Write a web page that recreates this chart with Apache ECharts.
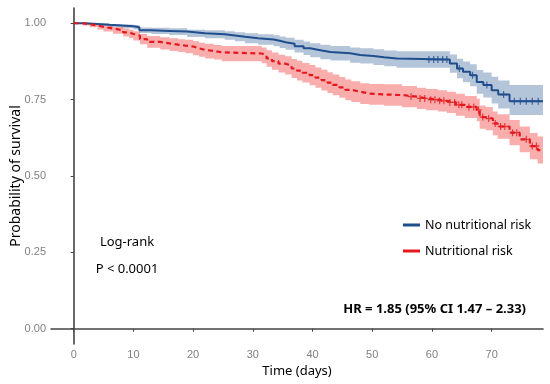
<!DOCTYPE html>
<html>
<head>
<meta charset="utf-8">
<script src="https://cdn.jsdelivr.net/npm/echarts@6/dist/echarts.min.js"></script>
<style>html,body{margin:0;padding:0;background:#fff;}#c{width:550px;height:384px;}</style>
</head>
<body>
<div id="c"></div>
<script>
// ---- data ----
const seriesNames = ['No nutritional risk', 'Nutritional risk'];

const timesBlue = [0, 2, 4, 6, 8, 10, 11, 13, 16, 19, 22, 25.3, 27, 28.7, 30.9, 33.5, 34.5, 35.5, 37, 38.5, 39.6, 41.3, 43, 46.3, 48, 50.2, 52, 54.1, 63, 64.2, 65.2, 66.4, 67.5, 68.6, 70, 71.1, 73, 78.6];
const survBlue  = [1.000, 0.998, 0.995, 0.993, 0.990, 0.987, 0.977, 0.975, 0.973, 0.967, 0.964, 0.960, 0.956, 0.951, 0.947, 0.943, 0.938, 0.933, 0.925, 0.918, 0.912, 0.906, 0.902, 0.896, 0.893, 0.889, 0.885, 0.881, 0.868, 0.852, 0.841, 0.830, 0.808, 0.798, 0.781, 0.767, 0.745, 0.745];
const loBlue    = [1.000, 0.995, 0.991, 0.988, 0.984, 0.980, 0.968, 0.965, 0.962, 0.955, 0.951, 0.946, 0.941, 0.935, 0.930, 0.925, 0.919, 0.913, 0.904, 0.896, 0.889, 0.882, 0.878, 0.871, 0.868, 0.863, 0.859, 0.854, 0.838, 0.820, 0.807, 0.794, 0.769, 0.757, 0.737, 0.721, 0.700, 0.700];
const hiBlue    = [1.000, 1.000, 0.999, 0.998, 0.996, 0.994, 0.986, 0.985, 0.984, 0.979, 0.977, 0.974, 0.971, 0.967, 0.964, 0.961, 0.957, 0.953, 0.946, 0.940, 0.935, 0.930, 0.926, 0.921, 0.918, 0.915, 0.911, 0.908, 0.898, 0.884, 0.875, 0.866, 0.847, 0.839, 0.825, 0.813, 0.798, 0.798];

const timesRed = [0, 1.5, 2.7, 4, 5, 6.6, 8.3, 9.3, 10, 11.1, 12.3, 14.5, 16.1, 17.5, 18.7, 20, 21, 22, 23.5, 24.8, 31.5, 32.3, 33.2, 34.3, 35.4, 36.5, 37.4, 38.3, 39.5, 40.5, 41.5, 42.5, 43.4, 44.5, 45.5, 46.5, 48, 49.5, 52, 55, 57.5, 59, 61, 62.5, 64, 65.5, 67.5, 68, 69, 70.2, 71, 73, 74.7, 76.4, 77.7, 78.6];
const survRed  = [1.000, 0.997, 0.993, 0.988, 0.983, 0.977, 0.970, 0.965, 0.959, 0.948, 0.939, 0.934, 0.930, 0.927, 0.924, 0.918, 0.913, 0.909, 0.905, 0.901, 0.895, 0.885, 0.876, 0.868, 0.862, 0.852, 0.845, 0.838, 0.830, 0.822, 0.814, 0.806, 0.798, 0.790, 0.782, 0.776, 0.770, 0.767, 0.765, 0.760, 0.754, 0.750, 0.746, 0.741, 0.733, 0.726, 0.716, 0.693, 0.688, 0.672, 0.662, 0.642, 0.620, 0.598, 0.585, 0.585];
const loRed    = [1.000, 0.993, 0.987, 0.980, 0.973, 0.966, 0.957, 0.951, 0.944, 0.931, 0.920, 0.914, 0.909, 0.906, 0.902, 0.895, 0.890, 0.885, 0.881, 0.876, 0.869, 0.858, 0.848, 0.839, 0.832, 0.821, 0.813, 0.806, 0.797, 0.789, 0.780, 0.772, 0.764, 0.756, 0.748, 0.742, 0.736, 0.733, 0.730, 0.725, 0.719, 0.715, 0.711, 0.706, 0.697, 0.690, 0.679, 0.655, 0.650, 0.633, 0.622, 0.601, 0.578, 0.555, 0.541, 0.541];
const hiRed    = [1.000, 1.000, 0.999, 0.996, 0.993, 0.988, 0.983, 0.979, 0.974, 0.965, 0.958, 0.954, 0.951, 0.948, 0.946, 0.941, 0.936, 0.933, 0.929, 0.926, 0.921, 0.912, 0.904, 0.897, 0.892, 0.883, 0.877, 0.870, 0.863, 0.855, 0.848, 0.840, 0.832, 0.824, 0.816, 0.810, 0.804, 0.801, 0.800, 0.795, 0.789, 0.785, 0.781, 0.776, 0.769, 0.762, 0.753, 0.731, 0.726, 0.711, 0.702, 0.683, 0.662, 0.641, 0.629, 0.629];

const censorBlue = [59.5, 60.3, 61, 61.8, 62.5, 64.6, 66.8, 69.2, 72, 73.8, 74.8, 75.8, 76.8, 77.8];
const censorRed  = [56.5, 58, 58.8, 59.8, 60.5, 61.3, 62, 63, 63.8, 64.5, 65, 66.2, 67, 67.8, 68.5, 69.5, 70.6, 71.5, 72.2, 73.5, 74.2, 75.8, 76.8, 77.5];

const xTicks = [0, 10, 20, 30, 40, 50, 60, 70];
const yTicks = [0, 0.25, 0.5, 0.75, 1];

// ---- helpers ----
const pairs = (t, v) => t.map((x, i) => [x, v[i]]);
function stepAt(times, vals, t) {
  let v = vals[0];
  for (let i = 0; i < times.length; i++) { if (times[i] <= t) v = vals[i]; }
  return v;
}
const censorPts = (c, times, vals) => c.map(t => [t, stepAt(times, vals, t)]);

function bandSeries(times, lo, hi, color) {
  return {
    type: 'custom', silent: true, z: 1,
    data: [[times[0], lo[0]]],
    clip: true,
    renderItem: function (params, api) {
      const pts = [];
      for (let i = 0; i < times.length; i++) {
        pts.push(api.coord([times[i], hi[i]]));
        if (i < times.length - 1) pts.push(api.coord([times[i + 1], hi[i]]));
      }
      for (let i = times.length - 1; i >= 0; i--) {
        if (i < times.length - 1) pts.push(api.coord([times[i + 1], lo[i]]));
        pts.push(api.coord([times[i], lo[i]]));
      }
      return {type: 'polygon', shape: {points: pts}, style: {fill: color, stroke: null}};
    }
  };
}

const BLUE = '#1f4e8d';
const RED = '#e4191d';
const BLUE_BAND = 'rgba(31,78,141,0.33)';
const RED_BAND = 'rgba(238,40,40,0.38)';
const PLUS = 'path://M4,0H6V4H10V6H6V10H4V6H0V4H4Z';

const chart = echarts.init(document.getElementById('c'), null, {renderer: 'canvas'});
chart.setOption({
  animation: false,
  backgroundColor: '#fff',
  grid: {left: 51, right: 7, top: 8, bottom: 40, containLabel: false, outerBoundsMode: 'none'},
  xAxis: {
    type: 'value', min: -3.8, max: 78.6,
    name: 'Time (days)', nameLocation: 'middle', nameGap: 21, nameMoveOverlap: false,
    nameTextStyle: {fontFamily: 'Noto Sans', fontSize: 13, color: '#000'},
    axisLine: {show: true, lineStyle: {color: '#444', width: 1.6}},
    axisTick: {show: true, length: 3, lineStyle: {color: '#444'}, customValues: xTicks},
    axisLabel: {customValues: xTicks, margin: 5, fontFamily: 'Liberation Sans', fontSize: 11, color: '#808080'},
    splitLine: {show: false}
  },
  yAxis: {
    type: 'value', min: -0.05, max: 1.05,
    name: 'Probability of survival', nameLocation: 'middle', nameGap: 28, nameMoveOverlap: false,
    nameTextStyle: {fontFamily: 'Noto Sans', fontSize: 14, color: '#000'},
    axisLine: {show: true, lineStyle: {color: '#444', width: 1.6}},
    axisTick: {show: true, length: 3, lineStyle: {color: '#444'}, customValues: yTicks},
    axisLabel: {customValues: yTicks, margin: 5, fontFamily: 'Liberation Sans', fontSize: 11, color: '#808080',
      formatter: v => v.toFixed(2)},
    splitLine: {show: false}
  },
  legend: {
    orient: 'vertical', left: 398, top: 212, itemWidth: 17, itemHeight: 3, itemGap: 10,
    icon: 'rect', data: seriesNames,
    textStyle: {fontFamily: 'Noto Sans', fontSize: 12.5, color: '#000', lineHeight: 16}
  },
  graphic: [
    {type: 'text', x: 127, y: 242, style: {text: 'Log-rank', font: '13px "Noto Sans"', fill: '#000', textAlign: 'center', textVerticalAlign: 'middle'}},
    {type: 'text', x: 127, y: 269, style: {text: 'P < 0.0001', font: '13px "Noto Sans"', fill: '#000', textAlign: 'center', textVerticalAlign: 'middle'}},
    {type: 'text', x: 526, y: 309, style: {text: 'HR = 1.85 (95% CI 1.47 – 2.33)', font: 'bold 13px "Noto Sans"', fill: '#000', textAlign: 'right', textVerticalAlign: 'middle'}}
  ],
  series: [
    bandSeries(timesBlue, loBlue, hiBlue, BLUE_BAND),
    bandSeries(timesRed, loRed, hiRed, RED_BAND),
    {type: 'line', name: seriesNames[0], step: 'end', data: pairs(timesBlue, survBlue), symbol: 'none', color: BLUE, lineStyle: {color: BLUE, width: 2}, z: 3},
    {type: 'line', name: seriesNames[1], step: 'end', data: pairs(timesRed, survRed), symbol: 'none', color: RED, lineStyle: {color: RED, width: 2.2, type: [5, 3.5]}, z: 3},
    {type: 'scatter', name: 'cb', data: censorPts(censorBlue, timesBlue, survBlue), symbol: PLUS, symbolSize: [6, 7], itemStyle: {color: BLUE}, z: 4, silent: true},
    {type: 'scatter', name: 'cr', data: censorPts(censorRed, timesRed, survRed), symbol: PLUS, symbolSize: [6, 7], itemStyle: {color: RED}, z: 4, silent: true}
  ]
});
</script>
</body>
</html>
